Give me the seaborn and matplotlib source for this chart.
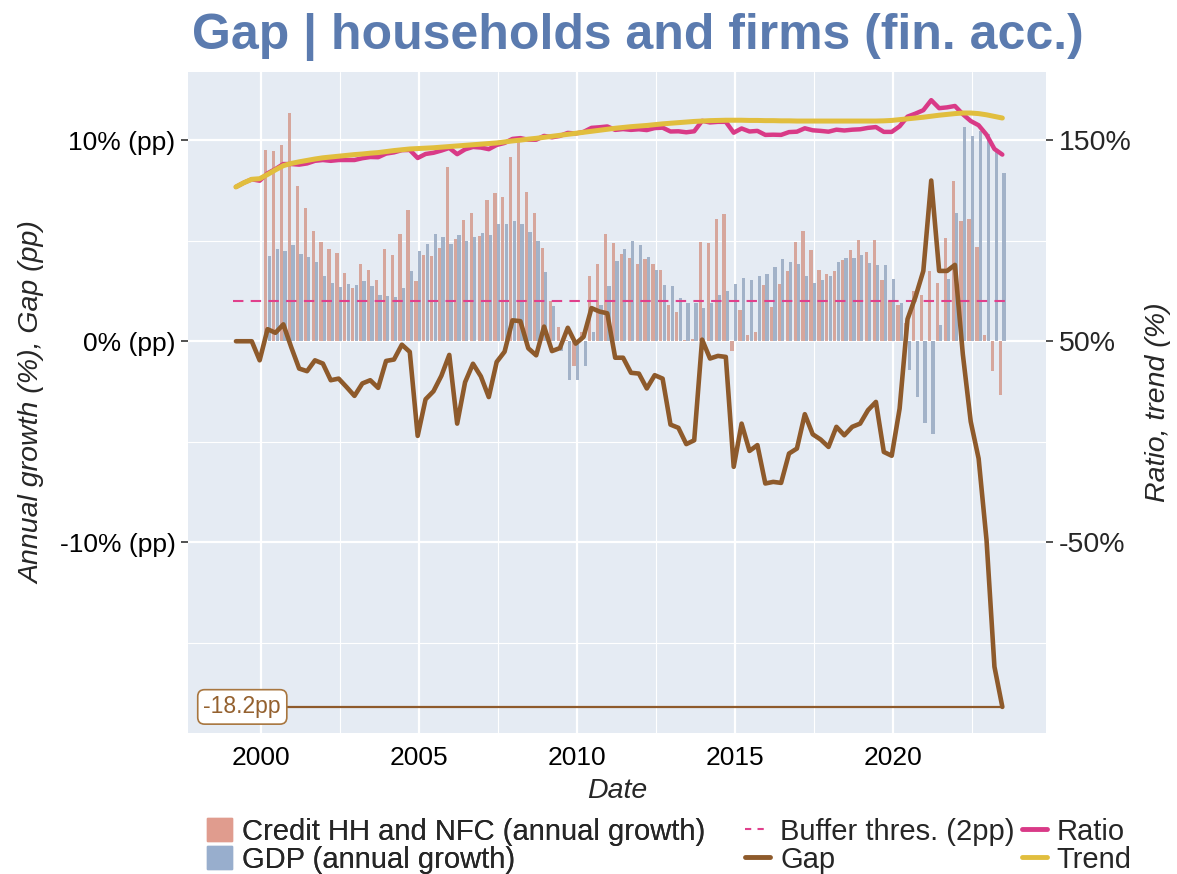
import numpy as np
import pandas as pd
import matplotlib
matplotlib.use("Agg")
import matplotlib.pyplot as plt
import matplotlib.ticker as mticker
from matplotlib.patches import Patch
from matplotlib.lines import Line2D
import seaborn as sns

# quarterly observations 1999Q1 .. 2023Q2
quarters = pd.period_range("1999Q1", "2023Q2", freq="Q")

# credit-to-GDP gap (pp)
gap = [0.0, 0.0, 0.0, -0.95, 0.6, 0.42, 0.84, -0.3, -1.36, -1.49,
       -0.95, -1.11, -1.94, -1.86, -2.28, -2.72, -2.1, -1.94, -2.32, -0.98,
       -0.91, -0.17, -0.53, -4.71, -2.89, -2.49, -1.72, -0.68, -4.1, -2.04,
       -1.12, -1.75, -2.78, -1.03, -0.52, 1.04, 1.0, -0.35, -0.7, 0.73,
       -0.49, -0.34, 0.67, -0.12, 0.22, 1.65, 1.48, 1.39, -0.82, -0.82,
       -1.57, -1.61, -2.35, -1.69, -1.86, -4.15, -4.31, -5.12, -4.93, 0.08,
       -0.86, -0.73, -0.78, -6.25, -4.1, -5.46, -5.17, -7.08, -7.0, -7.05,
       -5.59, -5.34, -3.63, -4.63, -4.89, -5.26, -4.26, -4.68, -4.26, -4.1,
       -3.43, -3.02, -5.51, -5.7, -3.35, 1.1, 2.2, 3.5, 8.0, 3.5,
       3.5, 3.8, -0.65, -4.0, -5.84, -9.9, -16.2, -18.2]

# credit-to-GDP ratio (%)
ratio = [126.8, 128.9, 130.6, 129.9, 133.6, 135.7, 138.2, 138.2, 137.9, 138.5,
         139.8, 140.2, 139.8, 140.2, 140.2, 140.2, 141.1, 141.7, 141.6, 143.4,
         144.0, 145.1, 145.2, 141.2, 143.2, 143.8, 144.9, 146.2, 143.1, 145.5,
         146.7, 146.4, 145.6, 147.7, 148.7, 150.7, 151.1, 150.3, 150.3, 152.2,
         151.5, 152.2, 153.7, 153.4, 154.2, 156.2, 156.5, 156.9, 155.2, 155.6,
         155.2, 155.5, 155.1, 156.1, 156.3, 154.4, 154.5, 154.0, 154.5, 159.7,
         158.9, 159.2, 159.2, 153.8, 155.9, 154.4, 154.7, 152.7, 152.8, 152.7,
         154.1, 154.3, 156.0, 155.0, 154.7, 154.3, 155.3, 154.9, 155.3, 155.5,
         156.2, 156.6, 154.2, 154.2, 157.0, 161.8, 163.3, 165.0, 170.0, 166.0,
         166.4, 167.1, 163.0, 159.6, 157.5, 152.8, 145.7, 142.9]

# long-run trend of the ratio (%)
trend = [126.8, 128.9, 130.6, 130.9, 133.0, 135.3, 137.4, 138.5, 139.3, 140.0,
         140.7, 141.3, 141.7, 142.1, 142.5, 142.9, 143.2, 143.6, 143.9, 144.4,
         144.9, 145.3, 145.7, 145.9, 146.1, 146.3, 146.6, 146.9, 147.2, 147.5,
         147.8, 148.1, 148.4, 148.7, 149.2, 149.7, 150.1, 150.6, 151.0, 151.5,
         152.0, 152.5, 153.0, 153.5, 154.0, 154.5, 155.0, 155.5, 156.0, 156.4,
         156.8, 157.1, 157.4, 157.8, 158.2, 158.5, 158.8, 159.1, 159.4, 159.6,
         159.8, 159.9, 160.0, 160.0, 160.0, 159.9, 159.9, 159.8, 159.8, 159.7,
         159.7, 159.6, 159.6, 159.6, 159.6, 159.6, 159.6, 159.6, 159.6, 159.6,
         159.6, 159.6, 159.7, 159.9, 160.3, 160.7, 161.1, 161.5, 162.0, 162.5,
         162.9, 163.3, 163.6, 163.6, 163.3, 162.7, 161.9, 161.1]

# annual growth rates (%), from 2000Q1
credit_growth = [9.54, 9.45, 9.78, 11.36, 7.73, 6.65, 5.47, 4.93, 4.58, 4.38,
                 3.42, 2.67, 3.86, 3.57, 3.03, 4.59, 4.28, 5.36, 6.52, 3.0,
                 4.30, 4.25, 4.64, 8.67, 5.07, 6.05, 6.40, 5.24, 7.01, 7.38,
                 7.18, 9.19, 9.92, 7.45, 6.38, 4.64, 1.99, 0.73, 0.05, -1.24,
                 0.46, 3.23, 3.86, 5.36, 4.89, 4.34, 4.16, 3.83, 4.11, 3.86,
                 3.57, 1.79, 1.46, 0.08, 0.13, 4.93, 4.88, 6.09, 6.35, -0.5,
                 1.54, 0.33, 0.48, 2.79, 1.69, 2.84, 3.48, 4.93, 5.47, 4.53,
                 3.57, 3.35, 3.48, 4.06, 4.53, 5.06, 4.44, 5.04, 3.03, 1.99,
                 1.81, 0.9, 2.49, 2.32, 3.5, 2.9, 5.16, 7.96, 5.99, 6.07,
                 4.69, 0.33, -1.49, -2.69]

gdp_growth = [4.23, 4.59, 4.49, 4.78, 4.34, 4.18, 3.96, 3.23, 2.92, 2.69,
              2.87, 2.82, 3.02, 2.77, 2.31, 2.26, 2.21, 2.64, 3.48, 4.51,
              4.83, 5.32, 5.17, 4.83, 5.29, 5.01, 5.19, 5.41, 5.31, 5.85,
              5.85, 6.0, 5.82, 5.44, 5.01, 3.43, 1.77, -0.5, -1.94, -1.94,
              -1.23, 0.46, 1.82, 2.74, 4.0, 4.58, 5.01, 4.79, 4.2, 3.57,
              2.79, 2.74, 2.14, 1.91, 1.91, 1.66, 1.91, 2.32, 2.52, 2.85,
              3.13, 3.05, 3.25, 3.33, 3.71, 4.1, 3.96, 3.86, 3.27, 2.9,
              3.07, 3.27, 3.93, 4.15, 4.13, 4.28, 3.9, 3.81, 3.81, 3.08,
              1.91, -1.41, -2.77, -4.06, -4.63, 0.83, 3.08, 6.38, 10.65, 10.23,
              10.45, 10.33, 9.42, 8.36]

buffer_threshold = 2.0

C_CREDIT = "#E09C8E"
C_GDP = "#98AECD"
C_BUFFER = "#E0408C"
C_GAP = "#8E5A2B"
C_RATIO = "#D93A87"
C_TREND = "#E1BE3E"
C_TITLE = "#5B7BAF"


def to_decimal(periods):
    # middle of the last month of each quarter, in decimal years
    return np.asarray(periods.year + (periods.quarter * 3 - 0.5) / 12, dtype=float)


def plot_gap():
    plt.close("all")
    sns.set_theme(style="darkgrid", rc={
        "axes.facecolor": "#E5EBF3",
        "grid.color": "white",
        "figure.facecolor": "white",
    })
    plt.rcParams["font.family"] = ["Liberation Sans", "DejaVu Sans"]

    x = to_decimal(quarters)
    x_bars = x[len(x) - len(credit_growth):]

    bars = pd.DataFrame({
        "date": np.concatenate([x_bars, x_bars]),
        "value": credit_growth + gdp_growth,
        "series": ["Credit HH and NFC (annual growth)"] * len(credit_growth)
                  + ["GDP (annual growth)"] * len(gdp_growth),
    })

    fig = plt.figure(figsize=(11.77, 8.74), dpi=100)
    ax = fig.add_axes([0.1597, 0.1613, 0.729, 0.7563])

    sns.barplot(data=bars, x="date", y="value", hue="series", native_scale=True,
                palette=[C_CREDIT, C_GDP], width=0.88, gap=0.06, errorbar=None,
                linewidth=0, alpha=0.95, legend=False, ax=ax, zorder=2)

    sns.lineplot(x=[x[0] - 0.1, x[-1] + 0.1], y=[buffer_threshold] * 2, ax=ax,
                 color=C_BUFFER, lw=1.5, dashes=(5, 3.5), zorder=3)
    sns.lineplot(x=[x[0], x[-1]], y=[gap[-1]] * 2, ax=ax, color=C_GAP,
                 lw=1.6, zorder=3)
    sns.lineplot(x=x, y=gap, ax=ax, color=C_GAP, lw=3.3, zorder=4)

    ax.text(x[0] + 0.2, gap[-1], f"{gap[-1]:.1f}pp", ha="center", va="center",
            fontsize=16.5, color="#94612F", zorder=6,
            bbox=dict(boxstyle="round,pad=0.25,rounding_size=0.3", fc="white",
                      ec="#A8763F", lw=1.2))

    ylim = (-19.5, 13.4)
    ax.set_xlim(1997.69, 2024.84)
    ax.set_ylim(*ylim)
    ax.xaxis.set_major_locator(mticker.MultipleLocator(5))
    ax.xaxis.set_minor_locator(mticker.MultipleLocator(2.5))
    ax.xaxis.set_major_formatter(mticker.FormatStrFormatter("%d"))
    ax.set_yticks([-10, 0, 10])
    ax.set_yticklabels(["-10% (pp)", "0% (pp)", "10% (pp)"])
    ax.yaxis.set_minor_locator(mticker.FixedLocator([-15, -5, 5]))
    ax.grid(which="major", color="white", lw=1.6)
    ax.grid(which="minor", color="white", lw=0.8)
    ax.tick_params(axis="both", which="major", labelsize=19, length=5,
                   width=1.2, color="#333333", labelcolor="black", pad=4)
    ax.tick_params(axis="both", which="minor", length=0)
    ax.set_xlabel("Date", fontsize=20.5, style="italic", labelpad=6)
    ax.set_ylabel("Annual growth (%), Gap (pp)", fontsize=20.5, style="italic",
                  labelpad=10)
    for s in ax.spines.values():
        s.set_visible(False)

    # right axis: ratio and trend in %, linked to the left scale
    ax2 = ax.twinx()
    sns.lineplot(x=x, y=ratio, ax=ax2, color=C_RATIO, lw=3.2)
    sns.lineplot(x=x, y=trend, ax=ax2, color=C_TREND, lw=3.6)
    ax2.set_ylim(ylim[0] * 10 + 50, ylim[1] * 10 + 50)
    ax2.set_yticks([-50, 50, 150])
    ax2.set_yticklabels(["-50%", "50%", "150%"])
    ax2.grid(False)
    ax2.tick_params(axis="y", labelsize=20.5, length=5, width=1.2,
                    color="#333333", pad=4)
    ax2.set_ylabel("Ratio, trend (%)", fontsize=20.5, style="italic", labelpad=10)
    for s in ax2.spines.values():
        s.set_visible(False)

    fig.suptitle("Gap | households and firms (fin. acc.)", x=0.542, y=0.985,
                 fontsize=36, fontweight="bold", color=C_TITLE)

    # two legends side by side: bars, then lines in two columns
    leg_kw = dict(frameon=False, fontsize=21, handlelength=0.85,
                  handleheight=0.85, handletextpad=0.35, labelspacing=0.0,
                  borderpad=0, borderaxespad=0, loc="center left")
    bar_leg = fig.legend(
        [Patch(color=C_CREDIT, alpha=0.95), Patch(color=C_GDP, alpha=0.95)],
        ["Credit HH and NFC (annual growth)", "GDP (annual growth)"],
        bbox_to_anchor=(0.176, 0.0325), **leg_kw)
    fig.add_artist(bar_leg)
    fig.legend(
        [Line2D([], [], color=C_BUFFER, lw=1.5, dashes=(3, 3)),
         Line2D([], [], color=C_GAP, lw=3.5),
         Line2D([], [], color=C_RATIO, lw=3.5),
         Line2D([], [], color=C_TREND, lw=3.5)],
        ["Buffer thres. (2pp)", "Gap", "Ratio", "Trend"],
        bbox_to_anchor=(0.633, 0.0325), ncol=2, columnspacing=0.25, **leg_kw)

    fig.savefig("out.png", dpi=100)


if __name__ == "__main__":
    plot_gap()
